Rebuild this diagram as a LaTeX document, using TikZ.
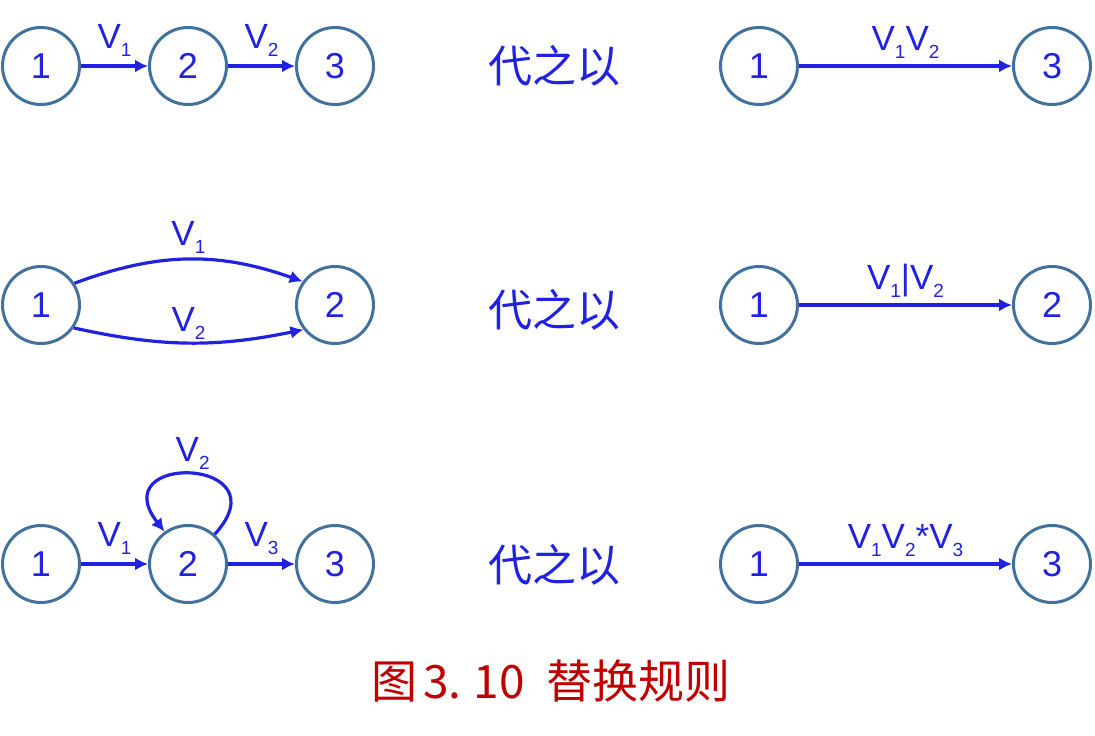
\documentclass[tikz,border=0pt]{standalone}
\usepackage{fontspec}
\setmainfont{Liberation Sans}
\newfontfamily\cjk{Noto Sans CJK SC}
\usetikzlibrary{arrows.meta}

\definecolor{ringblue}{HTML}{41719C}
\definecolor{inkblue}{HTML}{2121E0}
\definecolor{capred}{HTML}{C00000}

\newcommand{\vsub}[1]{V\raisebox{-8pt}{\fontsize{19}{19}\selectfont #1}}

\tikzset{
	ring/.style={circle,draw=ringblue,line width=3pt,minimum size=77pt,inner sep=0pt,text=inkblue,font=\fontsize{36}{36}\selectfont},
	link/.style={draw=inkblue,line width=3.2pt,-{Latex[length=13pt,width=13pt]}},
	lbl/.style={inner sep=0pt,text=inkblue,font=\fontsize{35}{35}\selectfont},
	word/.style={inner sep=0pt,text=inkblue,font=\cjk\fontsize{44}{44}\selectfont},
}

\begin{document}
\begin{tikzpicture}[x=1pt,y=-1pt]

	\useasboundingbox (0,0) rectangle (1095,736);

	\node[ring] (t1) at (41,66) {1};
	\node[ring] (t2) at (188,66) {2};
	\node[ring] (t3) at (335,66) {3};
	\node[ring] (tr1) at (759,66) {1};
	\node[ring] (tr3) at (1052,66) {3};
	\draw[link] (t1) -- node[lbl,above=8pt] {\vsub{1}} (t2);
	\draw[link] (t2) -- node[lbl,above=8pt] {\vsub{2}} (t3);
	\draw[link] (tr1) -- node[lbl,above=6pt] {\vsub{1}\vsub{2}} (tr3);
	\node[word] (tw) at (554,66) {代之以};

	\node[ring] (m1) at (41,305) {1};
	\node[ring] (m2) at (335,305) {2};
	\node[ring] (mr1) at (759,305) {1};
	\node[ring] (mr2) at (1052,305) {2};
	\draw[link] (m1.33) to[bend left=20] node[lbl,above=4pt] {\vsub{1}} (m2.144);
	\draw[link] (m1.-35) to[bend right=12] node[lbl,above=2pt] {\vsub{2}} (m2.-142);
	\draw[link] (mr1) -- node[lbl,above=6pt] {\vsub{1}|\vsub{2}} (mr2);
	\node[word] (mw) at (554,310) {代之以};

	\node[ring] (b1) at (41,564) {1};
	\node[ring] (b2) at (188,564) {2};
	\node[ring] (b3) at (335,564) {3};
	\node[ring] (br1) at (759,564) {1};
	\node[ring] (br3) at (1052,564) {3};
	\draw[link] (b1) -- node[lbl,above=8pt] {\vsub{1}} (b2);
	\draw[link] (b2.48) .. controls +(70,-77) and +(-62,-80) .. (b2.126) node[lbl,pos=0.5,above=3pt] {\vsub{2}};
	\draw[link] (b2) -- node[lbl,above=8pt] {\vsub{3}} (b3);
	\draw[link] (br1) -- node[lbl,above=6pt] {\vsub{1}\vsub{2}*\vsub{3}} (br3);
	\node[word] (bw) at (554,565) {代之以};

	\node[inner sep=0pt,text=capred,font=\cjk\fontsize{46}{46}\selectfont] (cap) at (551,681) {图\kern6pt 3.\kern12pt 10\kern22pt 替换规则};

\end{tikzpicture}
\end{document}
